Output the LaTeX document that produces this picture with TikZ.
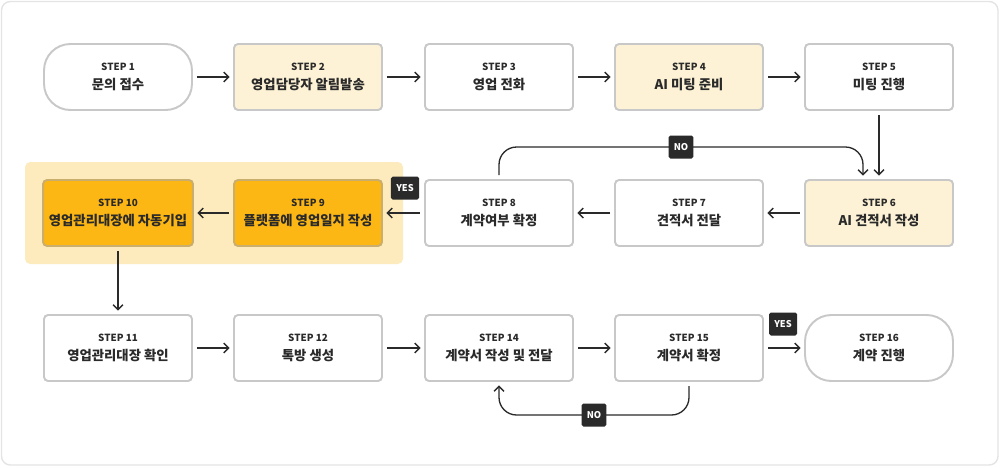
\documentclass[tikz,border=0pt]{standalone}
\usepackage{fontspec}
\setmainfont{Noto Sans CJK KR}
\usetikzlibrary{arrows.meta}

\definecolor{boxgray}{HTML}{C8C8C8}
\definecolor{cream}{HTML}{FDF2D6}
\definecolor{amber}{HTML}{FDB714}
\definecolor{amberline}{HTML}{C9AE6E}
\definecolor{amberbg}{HTML}{FDEBBD}
\definecolor{ink}{HTML}{2A2A2A}
\definecolor{framegray}{HTML}{E4E4E4}

\newcommand{\steptext}[2]{{\fontsize{5.6}{6}\selectfont STEP #1}\\[2pt]#2}

\begin{document}
\begin{tikzpicture}[x=0.02cm,y=-0.02cm,
  thick,step node/.style={rectangle,draw=boxgray,line width=1.1pt,rounded corners=2.3pt,
    minimum width=2.96cm,minimum height=1.32cm,align=center,text=ink,fill=white,
    font=\fontsize{7.6}{9}\selectfont\bfseries},
  end node/.style={step node,rounded corners=15pt},
  ai node/.style={step node,fill=cream},
  auto node/.style={step node,fill=amber,draw=amberline},
  tag/.style={fill=ink,text=white,rounded corners=1pt,inner xsep=3pt,inner ysep=0pt,
    minimum height=0.46cm,minimum width=0.46cm,font=\fontsize{5.3}{6}\selectfont\bfseries},
  flow/.style={-{Straight Barb[length=2.8pt,width=5.6pt]},line width=0.75pt,draw=ink,
    shorten >=2pt,shorten <=2.3pt}]

  \useasboundingbox (0,0) rectangle (1000,467);
  \draw[framegray,fill=white,rounded corners=5pt] (1.5,1.5) rectangle (998,465);
  \fill[amberbg,rounded corners=3pt] (25,162) rectangle (403,264);

  % row 1
  \node[end node] (1) at (118,77) {\steptext{1}{문의 접수}};
  \node[ai node] (2) at (308,77) {\steptext{2}{영업담당자 알림발송}};
  \node[step node] (3) at (499,77) {\steptext{3}{영업 전화}};
  \node[ai node] (4) at (689,77) {\steptext{4}{AI 미팅 준비}};
  \node[step node] (5) at (879,77) {\steptext{5}{미팅 진행}};

  % row 2
  \node[ai node] (6) at (879,213) {\steptext{6}{AI 견적서 작성}};
  \node[step node] (7) at (689,213) {\steptext{7}{견적서 전달}};
  \node[step node] (8) at (499,213) {\steptext{8}{계약여부 확정}};
  \node[auto node] (9) at (308,213) {\steptext{9}{플랫폼에 영업일지 작성}};
  \node[auto node] (10) at (118,213) {\steptext{10}{영업관리대장에 자동기입}};

  % row 3
  \node[step node] (11) at (118,348) {\steptext{11}{영업관리대장 확인}};
  \node[step node] (12) at (308,348) {\steptext{12}{톡방 생성}};
  \node[step node] (14) at (499,348) {\steptext{14}{계약서 작성 및 전달}};
  \node[step node] (15) at (689,348) {\steptext{15}{계약서 확정}};
  \node[end node] (16) at (879,348) {\steptext{16}{계약 진행}};

  \path[flow]
    (1) edge (2)
    (2) edge (3)
    (3) edge (4)
    (4) edge (5)
    (5) edge (6)
    (6) edge (7)
    (7) edge (8)
    (8) edge (9)
    (9) edge (10)
    (10) edge (11)
    (11) edge (12)
    (12) edge (14)
    (14) edge (15)
    (15) edge (16);

  % loops back
  \draw[flow,rounded corners=10pt] (8.north) -- (8.north |- 0,147) -| ([xshift=-0.32cm]6.north);
  \draw[flow,rounded corners=10pt] (15.south) -- (15.south |- 0,415) -| (14.south);

  \node[tag] (no1) at (681,147) {NO};
  \node[tag] (no2) at (594,415) {NO};
  \node[tag] (yes1) at (405,188) {YES};
  \node[tag] (yes2) at (783,324) {YES};
\end{tikzpicture}
\end{document}
